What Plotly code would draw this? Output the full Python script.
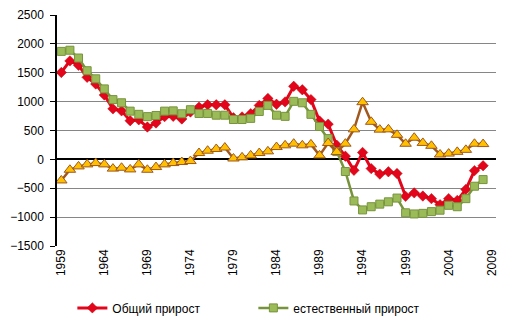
import plotly.graph_objects as go

years = list(range(1959, 2009))

total = [1505, 1705, 1630, 1420, 1305, 1115, 875, 840, 670, 685,
         560, 630, 740, 745, 700, 820, 905, 945, 945, 945,
         720, 735, 790, 935, 1055, 955, 995, 1265, 1205, 1035,
         665, 610, 245, 55, -190, 120, -160, -255, -215, -245,
         -640, -580, -635, -680, -785, -680, -710, -520, -195, -110]

natural = [1870, 1890, 1755, 1535, 1395, 1220, 1035, 980, 835, 780,
           740, 760, 835, 840, 790, 860, 795, 795, 765, 765,
           690, 690, 710, 830, 935, 765, 745, 1005, 980, 780,
           570, 360, 135, -210, -720, -875, -820, -775, -735, -670,
           -925, -945, -935, -905, -880, -795, -820, -680, -465, -350]

migration = [-365, -180, -122, -87, -64, -87, -160, -145, -174, -87,
             -180, -133, -87, -64, -46, -29, 110, 150, 180, 205,
             15, 35, 69, 110, 139, 214, 243, 272, 243, 260,
             69, 283, 127, 272, 520, 990, 650, 515, 520, 425,
             270, 375, 285, 235, 85, 100, 130, 165, 270, 265]

x_ticks = list(range(1959, 2010, 5))
y_ticks = [2500, 2000, 1500, 1000, 500, 0, -500, -1000, -1500]

fig = go.Figure()
fig.add_trace(go.Scatter(
    x=years, y=total, name="Общий прирост", mode="lines+markers",
    line=dict(color="#E3051B", width=3),
    marker=dict(symbol="diamond", size=8, color="#E3051B",
                line=dict(color="#C00000", width=0.5)),
))
fig.add_trace(go.Scatter(
    x=years, y=natural, name="естественный прирост", mode="lines+markers",
    line=dict(color="#77933C", width=2.5),
    marker=dict(symbol="square", size=8, color="#9BBB59",
                line=dict(color="#77933C", width=1)),
))
fig.add_trace(go.Scatter(
    x=years, y=migration, name="миграционный прирост", mode="lines+markers",
    line=dict(color="#A0581E", width=2.5),
    marker=dict(symbol="triangle-up", size=10, color="#FFC000",
                line=dict(color="#A0581E", width=1)),
    showlegend=False,
))

fig.update_layout(
    width=513, height=330,
    margin=dict(l=57, r=17, t=15, b=84, autoexpand=False),
    paper_bgcolor="white", plot_bgcolor="white",
    font=dict(family="Liberation Sans, Arial, sans-serif", size=12, color="black"),
    showlegend=True,
    legend=dict(orientation="h", x=0.035, xanchor="left",
                yref="container", y=0.067, yanchor="middle",
                font=dict(size=12), entrywidth=136, entrywidthmode="pixels",
                bgcolor="rgba(0,0,0,0)"),
    xaxis=dict(
        range=[1958.5, 2009.5], tickmode="array", tickvals=x_ticks,
        ticktext=[str(v) for v in x_ticks], tickangle=-90,
        showgrid=False, zeroline=False, showline=False,
        tickfont=dict(size=12), automargin=False,
    ),
    yaxis=dict(
        range=[-1500, 2500], tickmode="array", tickvals=y_ticks,
        showgrid=True, gridcolor="#868686", gridwidth=1,
        zeroline=True, zerolinecolor="black", zerolinewidth=1.5,
        showline=True, linecolor="black", linewidth=1.5,
        ticks="outside", ticklen=5, tickcolor="black",
        ticklabelstandoff=4,
        tickfont=dict(size=12), automargin=False,
    ),
)

fig.write_html("out.html")
